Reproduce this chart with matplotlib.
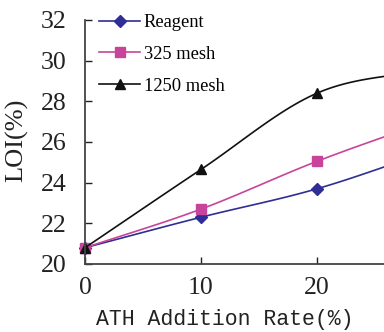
import matplotlib.pyplot as plt
import numpy as np

# ATH addition rate (%) and LOI (%)
rate = [0, 10, 20, 30]
reagent = [20.8, 22.3, 23.7, 25.6]
mesh_325 = [20.8, 22.7, 25.05, 27.1]
mesh_1250 = [20.8, 24.65, 28.4, 29.6]

labels = ["Reagent", "325 mesh", "1250 mesh"]
colors = ["#2e2e96", "#c8449a", "#111111"]
markers = ["D", "s", "^"]
x_ticks = [0, 10, 20]


def smooth(x, y, n=40):
    # Catmull-Rom curve through the points, like a spreadsheet "smoothed line"
    x = np.asarray(x, float)
    y = np.asarray(y, float)
    px = np.concatenate([[2 * x[0] - x[1]], x, [2 * x[-1] - x[-2]]])
    py = np.concatenate([[2 * y[0] - y[1]], y, [2 * y[-1] - y[-2]]])
    t = np.linspace(0, 1, n)
    xs, ys = [], []
    for i in range(1, len(px) - 2):
        for p, out in ((px, xs), (py, ys)):
            p0, p1, p2, p3 = p[i - 1], p[i], p[i + 1], p[i + 2]
            out.append(0.5 * (2 * p1 + (-p0 + p2) * t
                              + (2 * p0 - 5 * p1 + 4 * p2 - p3) * t ** 2
                              + (-p0 + 3 * p1 - 3 * p2 + p3) * t ** 3))
    return np.concatenate(xs), np.concatenate(ys)


plt.rcParams["font.family"] = ["Liberation Serif", "DejaVu Serif"]

fig = plt.figure(figsize=(3.84, 3.32), dpi=100)
# the reference is cropped on the right, so the axes run past the figure edge
ax = fig.add_axes([85 / 384, 68 / 332, 348 / 384, 244 / 332])

for ys, lab, c, m in zip([reagent, mesh_325, mesh_1250], labels, colors, markers):
    ms = 6 if m == "D" else 7
    sx, sy = smooth(rate, ys)
    ax.plot(sx, sy, color=c, linewidth=1.2, clip_on=False)
    ax.plot(rate, ys, linestyle="none", marker=m, color=c, markersize=ms,
            clip_on=False)
    ax.plot([], [], color=c, linewidth=1.2, marker=m, markersize=ms, label=lab)

ax.set_xlim(0, 30)
ax.set_ylim(20, 32)
ax.set_xticks(x_ticks)
ax.set_yticks(range(20, 33, 2))
ax.tick_params(direction="in", length=5, width=1, labelsize=18.5,
               colors="#222222")
ax.tick_params(axis="y", pad=13)
ax.tick_params(axis="x", pad=9)
for s in ["top", "right"]:
    ax.spines[s].set_visible(False)
for s in ["left", "bottom"]:
    ax.spines[s].set_linewidth(1.3)
    ax.spines[s].set_color("#444444")

ax.legend(loc="upper left", bbox_to_anchor=(0.02, 1.055), frameon=False,
          fontsize=13.3, handlelength=2.2, handletextpad=0.2, labelspacing=0.8,
          borderaxespad=0)

fig.text(17 / 384, 1 - 140 / 332, "LOI(%)", rotation=90, ha="center",
         va="center", fontsize=19, color="#222222")
fig.text(225 / 384, 1 - 319 / 332, "ATH Addition Rate(%)", ha="center",
         va="center", fontsize=15.5, color="#222222",
         family=["Liberation Mono", "DejaVu Sans Mono"])

fig.savefig("out.png", dpi=100)
